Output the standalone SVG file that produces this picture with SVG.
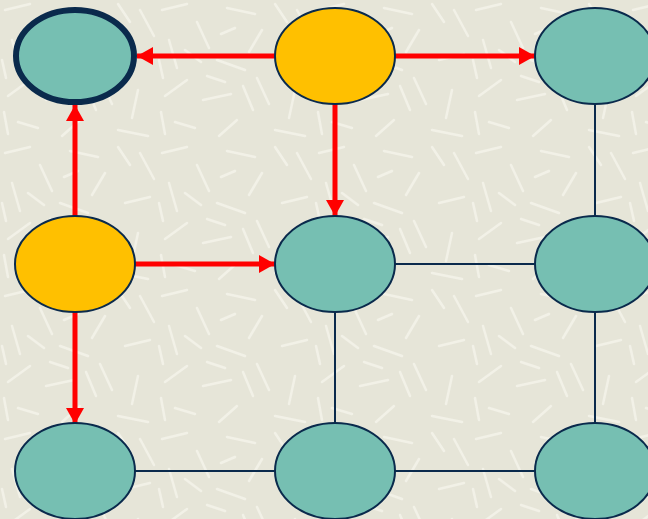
<svg xmlns="http://www.w3.org/2000/svg" width="648" height="519" viewBox="0 0 648 519">
  <defs>
    <style>
      .node-teal { fill: #76BFB2; stroke: #0A2A4C; stroke-width: 2; }
      .node-gold { fill: #FFC000; stroke: #0A2A4C; stroke-width: 2; }
      .node-start { fill: #76BFB2; stroke: #0A2A4C; stroke-width: 6; }
      .edge { stroke: #0A2A4C; stroke-width: 2; fill: none; }
      .path { stroke: #FF0000; stroke-width: 5; fill: none; marker-end: url(#head); }
      .grain line { stroke: #F7F6EE; stroke-width: 2.5; stroke-linecap: round; }
    </style>
    <marker id="head" viewBox="0 0 16 18" refX="16" refY="9" markerWidth="16" markerHeight="18" markerUnits="userSpaceOnUse" orient="auto">
      <path d="M0,0 L16,9 L0,18 Z" fill="#FF0000"/>
    </marker>
    <!-- paper-like fibre texture for the backdrop -->
    <pattern id="fibres" width="157" height="143" patternUnits="userSpaceOnUse">
      <rect width="157" height="143" fill="#E6E5D8"/>
      <g class="grain" opacity="0.7">
        <line x1="5" y1="10" x2="30" y2="4"/>
        <line x1="40" y1="22" x2="52" y2="48"/>
        <line x1="70" y1="8" x2="98" y2="14"/>
        <line x1="105" y1="30" x2="92" y2="52"/>
        <line x1="12" y1="40" x2="20" y2="68"/>
        <line x1="60" y1="60" x2="88" y2="70"/>
        <line x1="30" y1="80" x2="8" y2="96"/>
        <line x1="100" y1="78" x2="112" y2="104"/>
        <line x1="46" y1="100" x2="74" y2="94"/>
        <line x1="80" y1="120" x2="62" y2="136"/>
        <line x1="18" y1="122" x2="38" y2="128"/>
        <line x1="64" y1="34" x2="78" y2="28"/>
        <line x1="2" y1="60" x2="6" y2="78"/>
        <line x1="118" y1="4" x2="130" y2="22"/>
        <line x1="125" y1="60" x2="150" y2="54"/>
        <line x1="138" y1="90" x2="132" y2="118"/>
        <line x1="118" y1="130" x2="148" y2="136"/>
        <line x1="140" y1="10" x2="154" y2="36"/>
        <line x1="28" y1="50" x2="44" y2="62"/>
        <line x1="86" y1="86" x2="96" y2="110"/>
        <line x1="50" y1="76" x2="68" y2="82"/>
        <line x1="8" y1="134" x2="4" y2="112"/>
      </g>
    </pattern>
  </defs>

  <rect width="648" height="519" fill="url(#fibres)"/>

  <g id="connectors">
    <!-- plain grid links -->
    <line class="edge" x1="595" y1="104" x2="595" y2="216"/>
    <line class="edge" x1="395" y1="264" x2="535" y2="264"/>
    <line class="edge" x1="335" y1="312" x2="335" y2="424"/>
    <line class="edge" x1="595" y1="312" x2="595" y2="424"/>
    <line class="edge" x1="135" y1="471" x2="275" y2="471"/>
    <line class="edge" x1="395" y1="471" x2="535" y2="471"/>
    <!-- directed red links -->
    <line class="path" x1="275" y1="56" x2="137" y2="56"/>
    <line class="path" x1="395" y1="56" x2="535" y2="56"/>
    <line class="path" x1="335" y1="104" x2="335" y2="216"/>
    <line class="path" x1="75" y1="216" x2="75" y2="105"/>
    <line class="path" x1="135" y1="264" x2="275" y2="264"/>
    <line class="path" x1="75" y1="312" x2="75" y2="424"/>
  </g>

  <g id="n-top-left"><ellipse class="node-start" cx="75" cy="56" rx="59" ry="46"/></g>
  <g id="n-top-mid"><ellipse class="node-gold" cx="335" cy="56" rx="60" ry="48"/></g>
  <g id="n-top-right"><ellipse class="node-teal" cx="595" cy="56" rx="60" ry="48"/></g>
  <g id="n-mid-left"><ellipse class="node-gold" cx="75" cy="264" rx="60" ry="48"/></g>
  <g id="n-mid-mid"><ellipse class="node-teal" cx="335" cy="264" rx="60" ry="48"/></g>
  <g id="n-mid-right"><ellipse class="node-teal" cx="595" cy="264" rx="60" ry="48"/></g>
  <g id="n-bot-left"><ellipse class="node-teal" cx="75" cy="471" rx="60" ry="48"/></g>
  <g id="n-bot-mid"><ellipse class="node-teal" cx="335" cy="471" rx="60" ry="48"/></g>
  <g id="n-bot-right"><ellipse class="node-teal" cx="595" cy="471" rx="60" ry="48"/></g>
</svg>
